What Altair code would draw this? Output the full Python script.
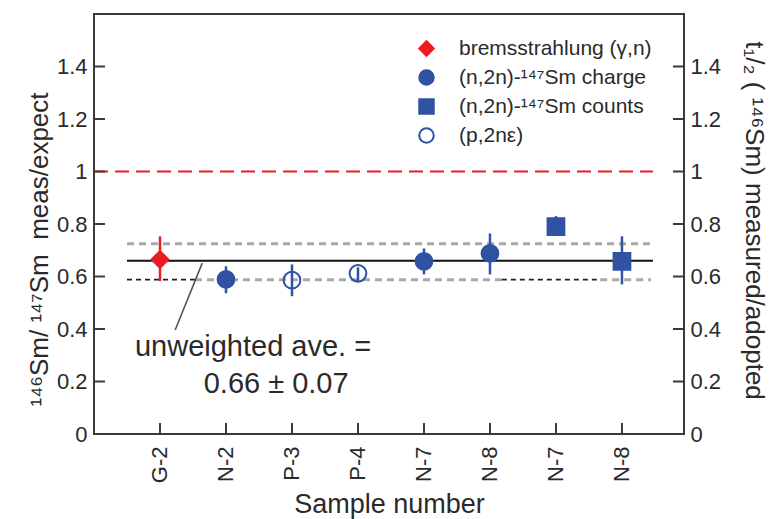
import json
import altair as alt
import pandas as pd

# ---------------- data ----------------
categories = ["G-2", "N-2", "P-3", "P-4", "N-7", "N-8", "N-7", "N-8"]
sample_pos = [1, 2, 3, 4, 5, 6, 7, 8]
methods = ["bremsstrahlung (γ,n)", "(n,2n)-¹⁴⁷Sm charge", "(n,2n)-¹⁴⁷Sm counts", "(p,2nε)"]
point_method = [0, 1, 3, 3, 1, 1, 2, 2]
ratio = [0.665, 0.589, 0.586, 0.612, 0.658, 0.688, 0.790, 0.658]
err_low = [0.582, 0.536, 0.525, 0.582, 0.608, 0.608, 0.760, 0.570]
err_high = [0.753, 0.639, 0.646, 0.635, 0.707, 0.764, 0.830, 0.753]

RED = "#ec1c24"
BLUE = "#3052a3"
method_shapes = ["diamond", "circle", "square", "circle"]
method_stroke = [RED, BLUE, BLUE, BLUE]
method_fill = [RED, BLUE, BLUE, "transparent"]

expect_value = [1.0]
expect_x = [0.0]
expect_x2 = [8.47]
avg_value = [0.66]
line_start = 0.5
line_end = 8.47
gray_start = [0.5, 1.53, 7.67]
gray_end = [8.44, 6.18, 8.44]
gray_y = [0.725, 0.588, 0.588]
black_dash_start = [0.5, 6.18]
black_dash_end = [1.53, 7.67]
black_dash_y = [0.588, 0.588]

leader_x = [1.64]
leader_x2 = [1.23]
leader_y = [0.651]
leader_y2 = [0.396]
annot_text = ["unweighted ave. =", "0.66 ± 0.07"]
annot_x = [2.41, 2.76]
annot_y = [0.33, 0.19]

y_ticks = [0, 0.2, 0.4, 0.6, 0.8, 1, 1.2, 1.4]

FONT = "Liberation Sans"
TXT = "#2a2a2a"
FRAME = "#3a3a3a"

# ---------------- tables ----------------
pts = pd.DataFrame({
    "x": sample_pos,
    "ratio": ratio,
    "lo": err_low,
    "hi": err_high,
    "method": [methods[i] for i in point_method],
    "ecol": [method_stroke[i] for i in point_method],
})
expect_df = pd.DataFrame({"x": expect_x, "x2": expect_x2, "y": expect_value})
avg_df = pd.DataFrame({"x": [line_start], "x2": [line_end], "y": avg_value})
gray_df = pd.DataFrame({"x": gray_start, "x2": gray_end, "y": gray_y})
bdash_df = pd.DataFrame({"x": black_dash_start, "x2": black_dash_end, "y": black_dash_y})
leader_df = pd.DataFrame({"x": leader_x, "x2": leader_x2, "y": leader_y, "y2": leader_y2})
annot_df = pd.DataFrame({"x": annot_x, "y": annot_y, "t": annot_text})
ytick_df = pd.DataFrame({"y": y_ticks})
xtick_df = pd.DataFrame({"x": sample_pos})

xscale = alt.Scale(domain=[0, 8.94], nice=False, zero=False)
yscale = alt.Scale(domain=[0, 1.6], nice=False, zero=False)

label_expr = "%s[datum.value - 1]" % json.dumps(categories)

x_axis = alt.Axis(values=sample_pos, labelExpr=label_expr, labelAngle=-90,
                  ticks=False, tickSize=0, domain=False, grid=False,
                  labelPadding=12, labelFontSize=22, labelFont=FONT, labelColor=TXT,
                  title="Sample number", titleFontSize=27, titleFont=FONT,
                  titleFontWeight="normal", titleColor=TXT, titlePadding=9)


def X(field="x"):
    return alt.X(f"{field}:Q", scale=xscale, axis=x_axis)


def Y(field="y"):
    return alt.Y(f"{field}:Q", scale=yscale, axis=None)


expect_layer = alt.Chart(expect_df).mark_rule(color=RED, strokeWidth=2, strokeDash=[14, 7]).encode(
    x=X(), x2="x2:Q", y=Y())
gray_layer = alt.Chart(gray_df).mark_rule(color="#a9a9a9", strokeWidth=3, strokeDash=[7, 5]).encode(
    x=X(), x2="x2:Q", y=Y())
bdash_layer = alt.Chart(bdash_df).mark_rule(color="#222222", strokeWidth=1.6, strokeDash=[5, 4]).encode(
    x=X(), x2="x2:Q", y=Y())
avg_layer = alt.Chart(avg_df).mark_rule(color="#111111", strokeWidth=2).encode(
    x=X(), x2="x2:Q", y=Y())
leader_layer = alt.Chart(leader_df).mark_rule(color="#555555", strokeWidth=1.6).encode(
    x=X(), x2="x2:Q", y=Y(), y2="y2:Q")

legend = alt.Legend(title=None, orient="none", legendX=322, legendY=24, padding=0,
                    labelFontSize=21, labelFont=FONT, labelColor=TXT, labelLimit=400,
                    symbolSize=210, symbolStrokeWidth=2, rowPadding=6, labelOffset=22)

points_layer = alt.Chart(pts).mark_point(size=280, strokeWidth=2, opacity=1).encode(
    x=X(),
    y=Y("ratio"),
    shape=alt.Shape("method:N", scale=alt.Scale(domain=methods, range=method_shapes), legend=legend),
    fill=alt.Fill("method:N", scale=alt.Scale(domain=methods, range=method_fill), legend=legend),
    stroke=alt.Stroke("method:N", scale=alt.Scale(domain=methods, range=method_stroke), legend=legend),
)
err_layer = alt.Chart(pts).mark_rule(strokeWidth=2.5).encode(
    x=X(), y=Y("lo"), y2="hi:Q", stroke=alt.Stroke("ecol:N", scale=None))

annot_layer = alt.Chart(annot_df).mark_text(font=FONT, fontSize=29, color=TXT, align="center",
                                            baseline="middle").encode(
    x=X(), y=Y(), text="t:N")

left_ticks = alt.Chart(ytick_df).mark_rule(color=FRAME, strokeWidth=2).encode(
    x=alt.value(0), x2=alt.value(11), y=Y())
right_ticks = alt.Chart(ytick_df).mark_rule(color=FRAME, strokeWidth=2).encode(
    x=alt.value(579), x2=alt.value(590), y=Y())
bottom_ticks = alt.Chart(xtick_df).mark_rule(color=FRAME, strokeWidth=2).encode(
    x=X(), y=alt.value(409), y2=alt.value(420))

NB = "\u00a0"
left_axis_layer = alt.Chart(ytick_df).mark_rule(opacity=0).encode(
    y=alt.Y("y:Q", scale=yscale,
            axis=alt.Axis(orient="left", values=y_ticks, format="~f", ticks=False, tickSize=0,
                          domain=False, grid=False, labelPadding=7, labelFontSize=22,
                          labelFont=FONT, labelColor=TXT,
                          title="¹⁴⁶Sm/" + NB + "¹⁴⁷Sm" + NB + NB + "meas/expect",
                          titleFont=FONT, titleFontSize=26,
                          titleFontWeight="normal", titleColor=TXT, titleAngle=270,
                          titleX=-55, titleY=235, titleAlign="center", titleBaseline="middle")))
right_axis_layer = alt.Chart(ytick_df).mark_rule(opacity=0).encode(
    y=alt.Y("y:Q", scale=yscale,
            axis=alt.Axis(orient="right", values=y_ticks, format="~f", ticks=False, tickSize=0,
                          domain=False, grid=False, labelPadding=6, labelFontSize=22,
                          labelFont=FONT, labelColor=TXT,
                          title="t₁/₂" + NB + "(" + NB + "¹⁴⁶Sm) measured/adopted",
                          titleFont=FONT, titleFontSize=26,
                          titleFontWeight="normal", titleColor=TXT, titleAngle=90,
                          titleX=69, titleY=206, titleAlign="center", titleBaseline="middle")))

chart = alt.layer(
    expect_layer, gray_layer, bdash_layer, avg_layer, leader_layer,
    points_layer, err_layer, annot_layer,
    left_ticks, right_ticks, bottom_ticks,
    left_axis_layer, right_axis_layer,
).resolve_scale(y="independent").properties(
    width=590, height=420,
    autosize=alt.AutoSizeParams(type="none"),
    padding={"left": 86, "top": 6, "right": 86, "bottom": 85},
).configure_view(stroke=FRAME, strokeWidth=2)

chart.save("out.html", embed_options={"renderer": "svg", "actions": False})
